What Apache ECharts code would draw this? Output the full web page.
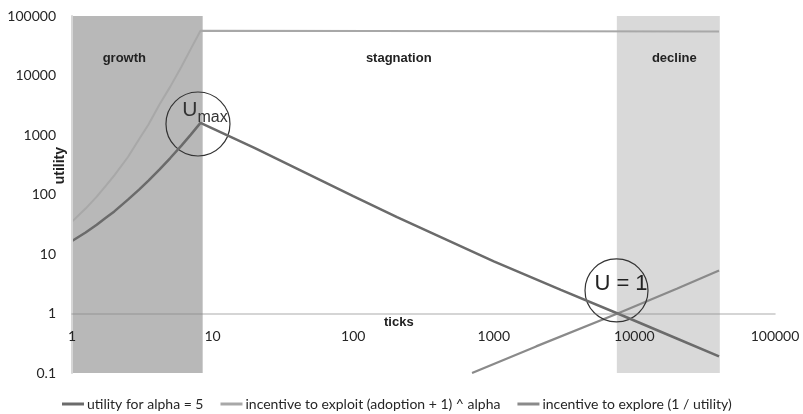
<!DOCTYPE html>
<html><head><meta charset="utf-8">
<script src="https://cdn.jsdelivr.net/npm/echarts@6/dist/echarts.min.js"></script>
<style>html,body{margin:0;padding:0;background:#fff}#c{width:803px;height:414px}</style>
</head><body><div id="c"></div>
<script>
// ---- data ----
const xTicks = [1, 10, 100, 1000, 10000, 100000];
const yTicks = [0.1, 1, 10, 100, 1000, 10000, 100000];
const utilX = [1, 1.25, 1.5, 1.75, 2, 2.5, 3, 3.5, 4.2, 5, 6, 7, 8.2, 20, 100, 205, 1000, 3000, 7600, 20000, 40000];
const utilY = [16.5, 23, 31, 41, 52, 82, 121, 171, 264, 410, 663, 1015, 1600, 600, 94, 41.5, 7.5, 2.5, 1, 0.38, 0.19];
const exploitX = [1, 1.25, 1.5, 1.75, 2, 2.5, 3, 3.5, 4.2, 5, 6, 7, 8.2, 40000];
const exploitY = [35, 58, 92, 142, 210, 427, 850, 1500, 3300, 6500, 14000, 28000, 56600, 55000];
const exploreX = [700, 2000, 7600, 20000, 40000];
const exploreY = [0.1, 0.28, 1, 2.6, 5.3];
const phaseNames = ['growth', 'stagnation', 'decline'];
const phaseFrom = [1, 8.5, 7500];
const phaseTo = [8.5, 7500, 40500];
const seriesNames = ['utility for alpha = 5', 'incentive to exploit (adoption + 1) ^ alpha', 'incentive to explore (1 / utility)'];
const umaxAt = [7.87, 1530];
const u1At = [7460, 2.44];

const pair = (xs, ys) => xs.map((x, i) => [x, ys[i]]);
const gridTop = 16, gridBottom = 41, H = 414;
const plotH = H - gridTop - gridBottom;
const decades = Math.log10(yTicks[yTicks.length - 1] / yTicks[0]);
const oneOffset = -plotH * Math.log10(1 / yTicks[0]) / decades;

const phaseColors = ['#b8b8b8', 'rgba(0,0,0,0)', '#d9d9d9'];
const phaseOffsets = [[-13, 0], [-11, 0], [6, 0]];
const areaData = phaseNames.map((n, i) => [
  { xAxis: phaseFrom[i], itemStyle: { color: phaseColors[i] },
    label: { show: true, formatter: n, position: 'insideTop', distance: 36, offset: phaseOffsets[i],
      fontFamily: 'Liberation Sans', fontWeight: 'bold', fontSize: 13, color: '#222' } },
  { xAxis: phaseTo[i] }
]);

const font = 'Lato';
const fmt = v => (v < 1 ? String(+v.toFixed(1)) : String(Math.round(v)));
const colors = ['#6b6b6b', '#a8a8a8', '#8a8a8a'];
const chart = echarts.init(document.getElementById('c'), null, { renderer: 'canvas' });
chart.setOption({
  animation: false,
  backgroundColor: '#fff',
  grid: { left: 72, right: 28, top: gridTop, bottom: gridBottom, containLabel: false },
  xAxis: {
    type: 'log', logBase: 10, min: xTicks[0], max: xTicks[xTicks.length - 1],
    offset: oneOffset, z: 10,
    axisLine: { show: true, lineStyle: { color: 'rgba(130,130,130,0.45)', width: 1.5 } },
    axisTick: { show: false }, splitLine: { show: false },
    axisLabel: { margin: 16, fontFamily: font, fontSize: 14, color: '#262626',
      showMinLabel: true, showMaxLabel: true, hideOverlap: false, formatter: fmt }
  },
  yAxis: {
    type: 'log', logBase: 10, min: yTicks[0], max: yTicks[yTicks.length - 1], z: 10,
    axisLine: { show: true, lineStyle: { color: '#d6d6d6', width: 2 } },
    axisTick: { show: false }, splitLine: { show: false },
    axisLabel: { margin: 16, fontFamily: font, fontSize: 14, color: '#262626', formatter: fmt }
  },
  legend: {
    left: 57, top: 392, itemWidth: 22, itemHeight: 3, itemGap: 17, icon: 'rect',
    data: seriesNames,
    textStyle: { fontFamily: font, fontSize: 14, color: '#262626', padding: [0, 0, 0, -2] }
  },
  graphic: [
    { type: 'text', left: 53, top: 147, rotation: Math.PI / 2,
      style: { text: 'utility', font: 'bold 14px "Liberation Sans"', fill: '#222' } },
    { type: 'text', left: 384, top: 316,
      style: { text: 'ticks', font: 'bold 13px "Liberation Sans"', fill: '#222' } }
  ],
  series: [
    { type: 'line', name: 'phases', data: [], z: 1, silent: true,
      markArea: { silent: true, data: areaData } },
    { type: 'line', name: seriesNames[1], data: pair(exploitX, exploitY), symbol: 'none', z: 3,
      lineStyle: { color: colors[1], width: 2 }, itemStyle: { color: colors[1] } },
    { type: 'line', name: seriesNames[2], data: pair(exploreX, exploreY), symbol: 'none', z: 4,
      lineStyle: { color: colors[2], width: 2.2 }, itemStyle: { color: colors[2] } },
    { type: 'line', name: seriesNames[0], data: pair(utilX, utilY), symbol: 'none', z: 5,
      lineStyle: { color: colors[0], width: 2.5 }, itemStyle: { color: colors[0] },
      markPoint: {
        silent: true,
        data: [
          { coord: umaxAt, symbol: 'circle', symbolSize: 64,
            itemStyle: { color: 'rgba(0,0,0,0)', borderColor: '#333', borderWidth: 1.2 },
            label: { show: true, position: 'inside', offset: [7, -11], formatter: '{u|U}{s|max}',
              rich: {
                u: { fontFamily: 'Liberation Sans', fontSize: 21, color: '#333', verticalAlign: 'bottom', padding: [0, 0, 5, 0] },
                s: { fontFamily: 'Liberation Sans', fontSize: 16, color: '#333', verticalAlign: 'bottom' }
              } } },
          { coord: u1At, symbol: 'circle', symbolSize: 63,
            itemStyle: { color: 'rgba(0,0,0,0)', borderColor: '#333', borderWidth: 1.2 },
            label: { show: true, position: 'inside', offset: [4.5, -7], formatter: 'U = 1',
              fontFamily: 'Liberation Sans', fontSize: 22, color: '#222' } }
        ]
      } }
  ]
});
</script></body></html>
